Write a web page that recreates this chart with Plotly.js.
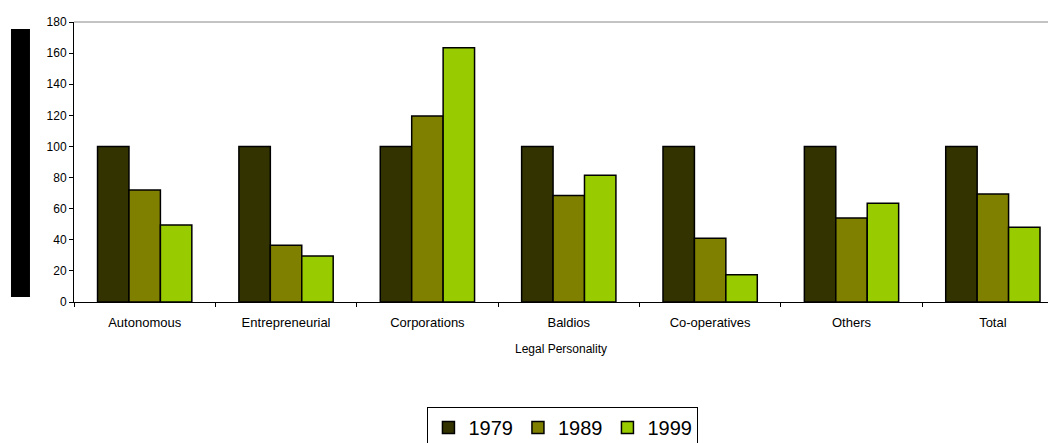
<!DOCTYPE html>
<html><head><meta charset="utf-8">
<script src="https://cdn.plot.ly/plotly-3.0.1.min.js"></script>
<style>html,body{margin:0;padding:0;background:#fff}#chart{width:1048px;height:443px}</style>
</head><body><div id="chart"></div>
<script>
const categories = ["Autonomous","Entrepreneurial","Corporations","Baldios","Co-operatives","Others","Total"];
const seriesNames = ["1979","1989","1999"];
const values1979 = [100,100,100,100,100,100,100];
const values1989 = [72,36.5,119.5,68.5,41,54,69.5];
const values1999 = [49.5,29.5,163.5,81.5,17.5,63.5,48];
const colors = ["#333300","#808000","#99CC00"];

const all = [values1979, values1989, values1999];
const traces = all.map((v,i)=>({
  type:'bar', x:categories, y:v, name:seriesNames[i],
  marker:{color:colors[i], line:{color:'#000', width:1.5}}
}));

const layout = {
  width:1048, height:443,
  margin:{l:74, r:0, t:22, b:141, autoexpand:false},
  paper_bgcolor:'#fff', plot_bgcolor:'#fff',
  barmode:'group', bargap:0.333, bargroupgap:0,
  font:{family:'Liberation Sans, Arial, sans-serif', size:12, color:'#000'},
  xaxis:{
    type:'category', range:[-0.5, 6.39], tickson:'boundaries',
    ticks:'outside', ticklen:4, tickcolor:'#000',
    showline:true, linecolor:'#000', linewidth:1,
    showgrid:false, zeroline:false, automargin:false,
    tickfont:{size:13}, ticklabelstandoff:8,
    title:{text:'Legal Personality', font:{size:12}, standoff:16}
  },
  yaxis:{
    range:[0,180], dtick:20, ticks:'outside', ticklen:4, tickcolor:'#000',
    showline:true, linecolor:'#000', linewidth:1, automargin:false,
    showgrid:false, zeroline:false, tickfont:{size:12}
  },
  showlegend:true,
  legend:{orientation:'h', x:0.502, xanchor:'center', y:-0.375, yanchor:'top',
    bordercolor:'#000', borderwidth:1, font:{size:20}, traceorder:'normal',
    itemwidth:30, tracegroupgap:0},
  shapes:[
    {type:'rect', xref:'paper', yref:'paper', x0:-0.0647, x1:-0.0452, y0:0.018, y1:0.975,
     fillcolor:'#000', line:{width:0}},
    {type:'line', xref:'paper', yref:'paper', x0:0, x1:1, y0:1, y1:1,
     line:{color:'#888', width:1}}
  ]
};
Plotly.newPlot('chart', traces, layout, {staticPlot:true, displayModeBar:false});
</script></body></html>
